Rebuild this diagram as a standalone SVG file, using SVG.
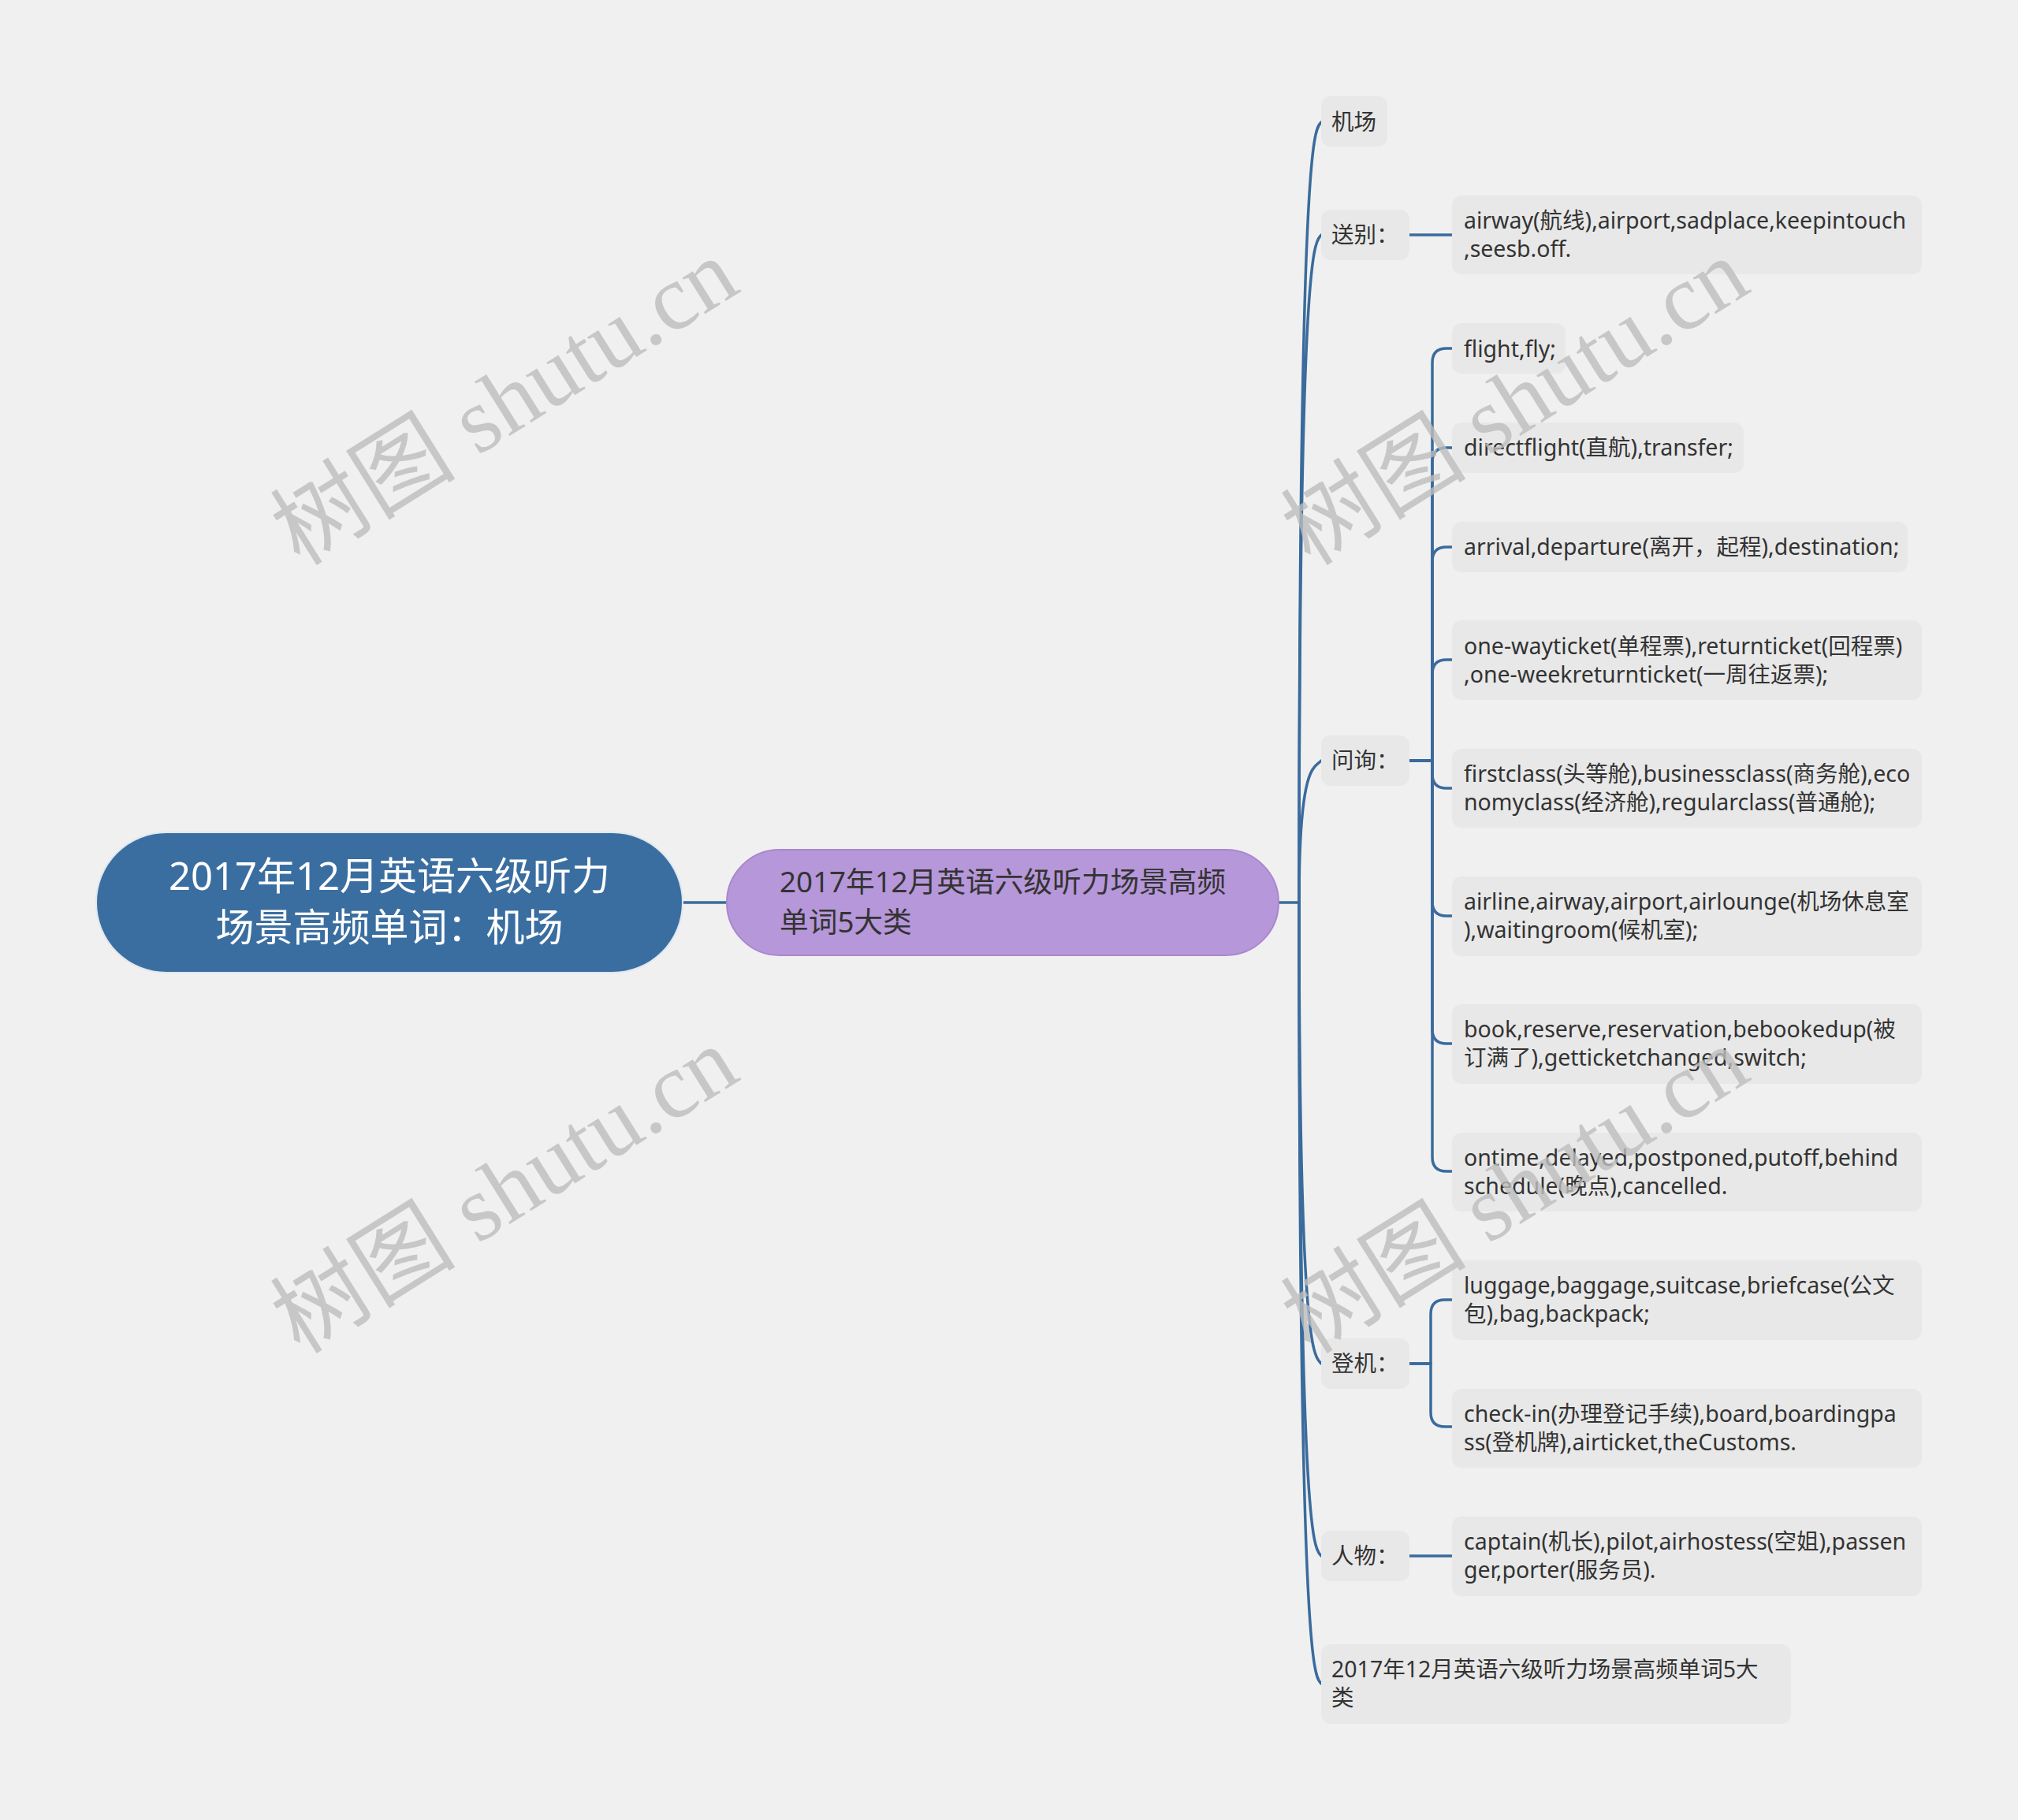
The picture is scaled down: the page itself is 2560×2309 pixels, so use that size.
<svg xmlns="http://www.w3.org/2000/svg" width="2560" height="2309" viewBox="0 0 2560 2309">
<style>
.bg{fill:#f0f0f0}
.box{fill:#e8e8e8}
.t{font-family:"Noto Sans","Noto Sans CJK SC",sans-serif;font-size:28.5px;fill:#333333}
.root{fill:#3b6ea0;stroke:#dfe7f0;stroke-width:2}
.rt{font-family:"Noto Sans","Noto Sans CJK SC",sans-serif;font-size:49px;fill:#ffffff;text-anchor:middle}
.sub{fill:#b697d9;stroke:#a987cf;stroke-width:2}
.st{font-family:"Noto Sans","Noto Sans CJK SC",sans-serif;font-size:36.7px;fill:#333333}
.c{fill:none;stroke:#3a6b9c;stroke-width:3.5;stroke-linecap:round}
.wm{font-family:"Liberation Serif","Noto Sans CJK SC",serif;font-size:118px;fill:#bdbdbd;fill-opacity:0.8;text-anchor:middle}
</style>
<rect class="bg" x="0" y="0" width="2560" height="2309"/>
<g id="connectors">
<path class="c" d="M866 1145 H922"/>
<path class="c" d="M1622 1145 H1648"/>
<path class="c" d="M1648 1145 C1648 155 1668 165 1676 155"/>
<path class="c" d="M1648 1145 C1648 298 1668 308 1676 298"/>
<path class="c" d="M1648 1145 C1648 965 1668 975 1676 965"/>
<path class="c" d="M1648 1145 C1648 1730 1668 1720 1676 1730"/>
<path class="c" d="M1648 1145 C1648 1974 1668 1964 1676 1974"/>
<path class="c" d="M1648 1145 C1648 2136 1668 2126 1676 2136"/>
<path class="c" d="M1788 298 H1842"/>
<path class="c" d="M1788 965 H1817 V460 Q1817 442 1835 442 H1842"/>
<path class="c" d="M1788 965 H1817 V586 Q1817 568 1835 568 H1842"/>
<path class="c" d="M1788 965 H1817 V712 Q1817 694 1835 694 H1842"/>
<path class="c" d="M1788 965 H1817 V855 Q1817 837 1835 837 H1842"/>
<path class="c" d="M1788 965 H1817 V982 Q1817 1000 1835 1000 H1842"/>
<path class="c" d="M1788 965 H1817 V1144 Q1817 1162 1835 1162 H1842"/>
<path class="c" d="M1788 965 H1817 V1306 Q1817 1324 1835 1324 H1842"/>
<path class="c" d="M1788 965 H1817 V1468 Q1817 1486 1835 1486 H1842"/>
<path class="c" d="M1788 1730 H1815 V1667 Q1815 1649 1833 1649 H1842"/>
<path class="c" d="M1788 1730 H1815 V1792 Q1815 1810 1833 1810 H1842"/>
<path class="c" d="M1788 1974 H1842"/>
</g>
<g id="root">
<rect class="root" x="122" y="1056" width="744" height="178" rx="89"/>
<text class="rt" x="494" y="1129">2017年12月英语六级听力</text>
<text class="rt" x="494" y="1194">场景高频单词：机场</text>
</g>
<g id="main">
<rect class="sub" x="922" y="1078" width="700" height="134" rx="67"/>
<text class="st" x="989" y="1132">2017年12月英语六级听力场景高频</text>
<text class="st" x="989" y="1183">单词5大类</text>
</g>
<g id="n-jichang">
<rect class="box" x="1676" y="122" width="84" height="64" rx="12"/>
<text class="t" x="1689" y="165">机场</text>
</g>
<g id="n-songbie">
<rect class="box" x="1676" y="266" width="112" height="64" rx="12"/>
<text class="t" x="1689" y="308">送别：</text>
</g>
<g id="n-wenxun">
<rect class="box" x="1676" y="933" width="112" height="64" rx="12"/>
<text class="t" x="1689" y="975">问询：</text>
</g>
<g id="n-dengji">
<rect class="box" x="1676" y="1698" width="112" height="64" rx="12"/>
<text class="t" x="1689" y="1740">登机：</text>
</g>
<g id="n-renwu">
<rect class="box" x="1676" y="1942" width="112" height="64" rx="12"/>
<text class="t" x="1689" y="1984">人物：</text>
</g>
<g id="n-last">
<rect class="box" x="1676" y="2086" width="596" height="101" rx="12"/>
<text class="t" x="1689" y="2128">2017年12月英语六级听力场景高频单词5大</text>
<text class="t" x="1689" y="2164">类</text>
</g>
<g id="c-airway">
<rect class="box" x="1842" y="248" width="596" height="100" rx="12"/>
<text class="t" x="1857" y="290">airway(航线),airport,sadplace,keepintouch</text>
<text class="t" x="1857" y="326">,seesb.off.</text>
</g>
<g id="c-flight">
<rect class="box" x="1842" y="410" width="144" height="64" rx="12"/>
<text class="t" x="1857" y="453">flight,fly;</text>
</g>
<g id="c-direct">
<rect class="box" x="1842" y="536" width="370" height="64" rx="12"/>
<text class="t" x="1857" y="578">directflight(直航),transfer;</text>
</g>
<g id="c-arrival">
<rect class="box" x="1842" y="662" width="578" height="64" rx="12"/>
<text class="t" x="1857" y="704">arrival,departure(离开，起程),destination;</text>
</g>
<g id="c-oneway">
<rect class="box" x="1842" y="787" width="596" height="101" rx="12"/>
<text class="t" x="1857" y="830">one-wayticket(单程票),returnticket(回程票)</text>
<text class="t" x="1857" y="866">,one-weekreturnticket(一周往返票);</text>
</g>
<g id="c-firstclass">
<rect class="box" x="1842" y="950" width="596" height="100" rx="12"/>
<text class="t" x="1857" y="992">firstclass(头等舱),businessclass(商务舱),eco</text>
<text class="t" x="1857" y="1028">nomyclass(经济舱),regularclass(普通舱);</text>
</g>
<g id="c-airline">
<rect class="box" x="1842" y="1112" width="596" height="101" rx="12"/>
<text class="t" x="1857" y="1154">airline,airway,airport,airlounge(机场休息室</text>
<text class="t" x="1857" y="1190">),waitingroom(候机室);</text>
</g>
<g id="c-book">
<rect class="box" x="1842" y="1274" width="596" height="101" rx="12"/>
<text class="t" x="1857" y="1316">book,reserve,reservation,bebookedup(被</text>
<text class="t" x="1857" y="1352">订满了),getticketchanged,switch;</text>
</g>
<g id="c-ontime">
<rect class="box" x="1842" y="1437" width="596" height="100" rx="12"/>
<text class="t" x="1857" y="1479">ontime,delayed,postponed,putoff,behind</text>
<text class="t" x="1857" y="1515">schedule(晚点),cancelled.</text>
</g>
<g id="c-luggage">
<rect class="box" x="1842" y="1599" width="596" height="101" rx="12"/>
<text class="t" x="1857" y="1641">luggage,baggage,suitcase,briefcase(公文</text>
<text class="t" x="1857" y="1677">包),bag,backpack;</text>
</g>
<g id="c-checkin">
<rect class="box" x="1842" y="1762" width="596" height="100" rx="12"/>
<text class="t" x="1857" y="1804">check-in(办理登记手续),board,boardingpa</text>
<text class="t" x="1857" y="1840">ss(登机牌),airticket,theCustoms.</text>
</g>
<g id="c-captain">
<rect class="box" x="1842" y="1924" width="596" height="101" rx="12"/>
<text class="t" x="1857" y="1966">captain(机长),pilot,airhostess(空姐),passen</text>
<text class="t" x="1857" y="2002">ger,porter(服务员).</text>
</g>
<g id="watermarks">
<text class="wm" x="640" y="550" transform="rotate(-32 640 510)">树图 shutu.cn</text>
<text class="wm" x="1922" y="550" transform="rotate(-32 1922 510)">树图 shutu.cn</text>
<text class="wm" x="640" y="1550" transform="rotate(-32 640 1510)">树图 shutu.cn</text>
<text class="wm" x="1922" y="1550" transform="rotate(-32 1922 1510)">树图 shutu.cn</text>
</g>
</svg>
